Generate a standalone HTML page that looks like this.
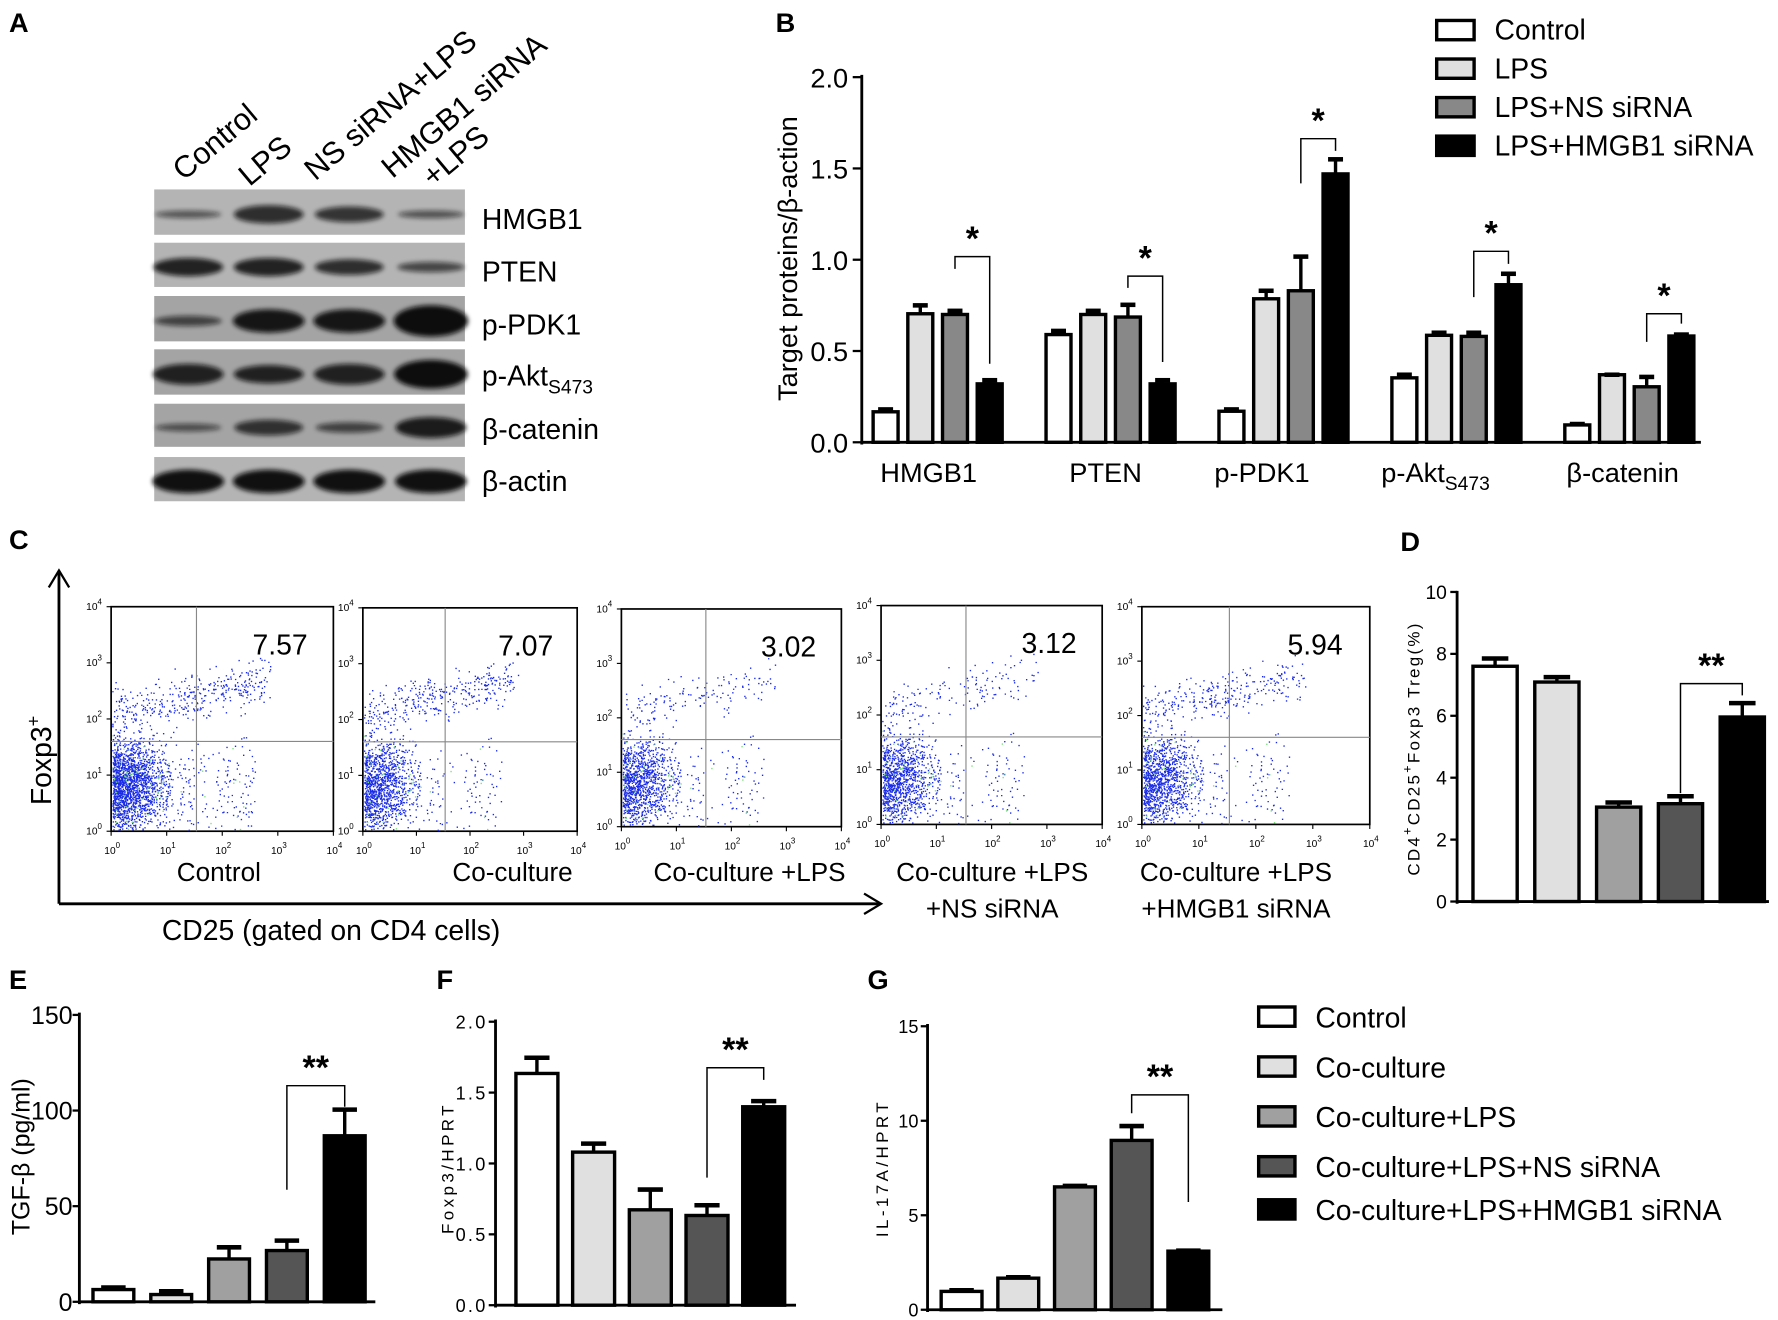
<!DOCTYPE html>
<html><head><meta charset="utf-8"><style>
html,body{margin:0;padding:0;background:#fff}
svg{display:block}
text{font-family:"Liberation Sans",sans-serif;fill:#000}
</style></head><body>
<svg id="fig" width="1778" height="1320" viewBox="0 0 1568 1164" xmlns="http://www.w3.org/2000/svg">
<defs><filter id="blur" x="-20%" y="-50%" width="140%" height="200%"><feGaussianBlur stdDeviation="2.2"/></filter></defs>
<g id="root"></g>
</svg>
<script>
// ---------- data ----------
const bGroups=['HMGB1','PTEN','p-PDK1','p-Akt','β-catenin'];
const bControl=[0.167,0.59,0.17,0.353,0.095];
const bLPS=[0.704,0.70,0.786,0.586,0.37];
const bNS=[0.70,0.686,0.83,0.58,0.304];
const bSi=[0.32,0.32,1.47,0.863,0.582];
const bControlErr=[0.18,0.61,0.18,0.37,0.10];
const bLPSErr=[0.75,0.72,0.83,0.60,0.37];
const bNSErr=[0.72,0.753,1.017,0.60,0.358];
const bSiErr=[0.34,0.34,1.55,0.923,0.59];
const bTicks=[0,0.5,1.0,1.5,2.0];
const bTickLabels=['0.0','0.5','1.0','1.5','2.0'];
const bSeriesNames=['Control','LPS','LPS+NS siRNA','LPS+HMGB1 siRNA'];

const dValues=[7.6,7.09,3.05,3.16,5.96];
const dErr=[7.85,7.25,3.2,3.4,6.41];
const dTicks=[0,2,4,6,8,10];

const eValues=[6.4,3.8,22.4,26.8,86.8];
const eErr=[7.5,5.5,28.5,32,100.5];
const eTicks=[0,50,100,150];

const fValues=[1.635,1.08,0.673,0.633,1.40];
const fErr=[1.746,1.14,0.816,0.705,1.44];
const fTicks=[0,0.5,1.0,1.5,2.0];
const fTickLabels=['0.0','0.5','1.0','1.5','2.0'];

const gValues=[0.97,1.67,6.5,8.96,3.1];
const gErr=[1.03,1.72,6.55,9.72,3.13];
const gTicks=[0,5,10,15];

const cgNames=['Control','Co-culture','Co-culture+LPS','Co-culture+LPS+NS siRNA','Co-culture+LPS+HMGB1 siRNA'];
const flowPct=['7.57','7.07','3.02','3.12','5.94'];

// ---------- helpers ----------
const NS='http://www.w3.org/2000/svg';
const root=document.getElementById('root');
function el(tag,attrs,parent,txt){const e=document.createElementNS(NS,tag);for(const k in attrs)e.setAttribute(k,attrs[k]);if(txt!==undefined)e.textContent=txt;(parent||root).appendChild(e);return e;}
function grp(name,parent){const g=el('g',{},parent);


return g;}
function label(parent,name,x,y,txt,size,extra){const t=el('text',Object.assign({x:x,y:y,'font-size':size},extra||{}),parent,txt);


return t;}
function line(p,x1,y1,x2,y2,w,c){return el('line',{x1,y1,x2,y2,stroke:c||'#000','stroke-width':w||2},p);}
function bar(p,name,x,w,y0,y1,fill,errY){const r=el('rect',{x:x,y:y1,width:w,height:y0-y1,fill:fill,stroke:'#000','stroke-width':3},p);


line(p,x+w/2,y1,x+w/2,errY,3);line(p,x+w/2-w*0.3,errY,x+w/2+w*0.3,errY,4);return r;}
function bracket(p,x1,x2,yTop,yL,yR,stars,size){el('path',{d:`M${x1},${yL}V${yTop}H${x2}V${yR}`,fill:'none',stroke:'#000','stroke-width':1.3},p);
label(p,'significance-stars',(x1+x2)/2,yTop-6,stars,size||30,{'text-anchor':'middle','font-weight':'bold'});}
function panelLetter(name,x,y,t){label(root,name,x,y,t,24,{'font-weight':'bold'});}

// ---------- Panel A ----------
panelLetter('panel-a-letter',8,28,'A');
const gA=grp('panel-a-western-blot');
const laneX=[166,237,308,380];
[['Control',162,160],['LPS',220,165],['NS siRNA+LPS',278,160],['HMGB1 siRNA',346,158],['+LPS',382,166]].forEach(l=>{
label(gA,'lane-label',l[1],l[2],l[0],27,{transform:`rotate(-40 ${l[1]} ${l[2]})`});});
const rows=[['HMGB1',167,207,[[3,1.5],[7,5],[6,4.5],[3,2]]],['PTEN',214,253,[[7,6],[7,6],[6,5],[4,3]]],
['p-PDK1',261,301,[[4,3],[9,7],[9,7],[12,10]]],['p-Akt',308,348,[[8,6],[7,6],[8,6],[11,9]]],
['β-catenin',356,394,[[3,2],[6,4.5],[4,3],[8,6.5]]],['β-actin',403,442,[[9,7.5],[9,7.5],[9,7.5],[9,7.5]]]];
rows.forEach(r=>{const rg=grp('blot-row-'+r[0],gA);
el('rect',{x:136,y:r[1],width:274,height:r[2]-r[1],fill:r[0]==='p-PDK1'||r[0]==='p-Akt'||r[0]==='β-catenin'?'#a4a4a4':'#b4b4b4'},rg);
const cy=(r[1]+r[2])/2;
r[3].forEach((b,i)=>{el('ellipse',{cx:laneX[i],cy:cy+2,rx:28+b[0]*0.4,ry:b[0]*1.15,fill:'#0a0a0a',opacity:Math.min(1,0.45+b[1]*0.07),filter:'url(#blur)'},rg);});
});
label(gA,'blot-label-hmgb1',425,202,'HMGB1',25);
label(gA,'blot-label-pten',425,248,'PTEN',25);
label(gA,'blot-label-ppdk1',425,295,'p-PDK1',25);
const ak=label(gA,'blot-label-pakt',425,340,'p-Akt',25);el('tspan',{'font-size':17,dy:7},ak,'S473');
label(gA,'blot-label-bcatenin',425,387,'β-catenin',25);
label(gA,'blot-label-bactin',425,433,'β-actin',25);

// ---------- Panel B ----------
panelLetter('panel-b-letter',684,28,'B');
const gB=grp('panel-b-chart');
const yB=v=>390-v*161;
const xB=(g,i)=>770+g*152.5+i*30.6;
line(gB,760,66,760,392,2.5);line(gB,759,390,1500,390,2.5);
bTicks.forEach((t,i)=>{line(gB,752,yB(t),760,yB(t),2);label(gB,'y-tick-label',748,yB(t)+9,bTickLabels[i],24,{'text-anchor':'end'});});
label(gB,'y-axis-title',703,228,'Target proteins/β-action',24,{'text-anchor':'middle',transform:'rotate(-90 703 228)'});
const bFills=['#fff','#e0e0e0','#888','#000'];
const bSeries=[bControl,bLPS,bNS,bSi], bErrs=[bControlErr,bLPSErr,bNSErr,bSiErr];
const bBr=[[1.017,0.95,0.43],[0.91,0.846,0.44],[1.663,1.418,1.596],[1.046,0.795,0.977],[0.704,0.55,0.65]];
bGroups.forEach((gn,g)=>{bSeries.forEach((s,i)=>bar(gB,'bar-'+gn+'-'+bSeriesNames[i],xB(g,i),22,yB(0),yB(s[g]),bFills[i],yB(bErrs[i][g])));
bracket(gB,xB(g,2)+11,xB(g,3)+11,yB(bBr[g][0]),yB(bBr[g][1]),yB(bBr[g][2]),'*',30);});
const bLab=[819,975,1113,1266,1431];
bGroups.forEach((gn,g)=>{const t=label(gB,'x-tick-label',bLab[g],425,gn==='p-Akt'?'p-Akt':gn,24,{'text-anchor':'middle'});if(gn==='p-Akt'){el('tspan',{'font-size':17,dy:7},t,'S473');}});
const gBL=grp('panel-b-legend');
bSeriesNames.forEach((n,i)=>{const y=18+i*34;el('rect',{x:1267,y:y,width:33,height:17,fill:bFills[i],stroke:'#000','stroke-width':3},gBL);
label(gBL,'legend-entry',1318,y+17,n,25);});

// ---------- Panel C ----------
panelLetter('panel-c-letter',8,484,'C');
const gC=grp('panel-c-flow');
line(gC,52,505,52,797,2.5);el('path',{d:'M43,518 L52,503 L61,518',fill:'none',stroke:'#000','stroke-width':2},gC);
line(gC,52,797,776,797,2.5);el('path',{d:'M762,788 L777,797 L762,806',fill:'none',stroke:'#000','stroke-width':2},gC);
const fx=label(gC,'y-axis-title',45,710,'Foxp3',25,{transform:'rotate(-90 45 710)'});el('tspan',{'font-size':16,dy:-10},fx,'+');
label(gC,'x-axis-title',292,829,'CD25 (gated on CD4 cells)',25,{'text-anchor':'middle'});
const plots=[[98,535,294,733],[320,536,509,733],[548,537,742,729],[777,534,972,727],[1007,535,1208,727]];
let seed=12345;const rnd=()=>{seed=(seed*1103515245+12345)%2147483648;return seed/2147483648;};
const gauss=()=>(rnd()+rnd()+rnd()-1.5)/1.5;
const plabels=[['Control'],['Co-culture'],['Co-culture +LPS'],['Co-culture +LPS','+NS siRNA'],['Co-culture +LPS','+HMGB1 siRNA']];
const plabX=[193,452,661,875,1090];
plots.forEach((p,k)=>{const pg=grp('flow-plot-'+cgNames[k],gC);const [x0,y0,x1,y1]=p,w=x1-x0,h=y1-y0;
el('rect',{x:x0,y:y0,width:w,height:h,fill:'#fff',stroke:'#000','stroke-width':1.5},pg);
let dots='';let gdots='';
const nUp=Math.round(parseFloat(flowPct[k])*50);
for(let i=0;i<2300;i++){let fxv=Math.abs(gauss()*0.32+0.08*rnd());if(rnd()<0.08)fxv=0.3+rnd()*0.35;
let fyv=0.8+gauss()*0.3;if(fyv>0.995)fyv=0.995-rnd()*0.3;if(fyv<0.52)fyv=0.52+rnd()*0.15;
const xx=x0+1+Math.min(0.75,fxv)*w, yy=y0+fyv*h;const s=`M${xx.toFixed(1)},${yy.toFixed(1)}h1.2v1.2h-1.2z`;if(rnd()<0.05)gdots+=s;else dots+=s;}
for(let i=0;i<nUp;i++){const t=rnd();const xx=x0+1+t*0.7*w+gauss()*6;const yy=y0+h*(0.48-t*0.16)+gauss()*h*0.15;dots+=`M${Math.max(x0+1,xx).toFixed(1)},${Math.max(y0+h*0.22,Math.min(y0+h*0.62,yy)).toFixed(1)}h1.2v1.2h-1.2z`;}
el('path',{d:dots,fill:'#1a2be8'},pg);el('path',{d:gdots,fill:'#7ee07e'},pg);
line(pg,x0+w*0.384,y0,x0+w*0.384,y1,1,'#888');line(pg,x0,y0+h*0.6,x1,y0+h*0.6,1,'#888');
label(pg,'quadrant-percentage',x0+w*0.76,y0+42,flowPct[k],25,{'text-anchor':'middle'});
for(let e=0;e<=4;e++){const yy=y1-e*h/4;line(pg,x0-4,yy,x0,yy,1);const t=label(pg,'y-tick-label',x0-22,yy+3,'10',9);el('tspan',{'font-size':7,dy:-5},t,String(e));
const xx=x0+e*w/4;line(pg,xx,y1,xx,y1+4,1);const t2=label(pg,'x-tick-label',xx-6,y1+20,'10',9);el('tspan',{'font-size':7,dy:-5},t2,String(e));}
plabels[k].forEach((s,j)=>label(pg,'flow-plot-label',plabX[k],777+j*32,s,23,{'text-anchor':'middle'}));
});

// ---------- Panel D ----------
panelLetter('panel-d-letter',1235,486,'D');
const gD=grp('panel-d-chart');
const yD=v=>795-v*27.3;const xD=i=>1299+i*54.5;
const fills5=['#fff','#e0e0e0','#a0a0a0','#555','#000'];
line(gD,1285,521,1285,797,2.5);line(gD,1284,795,1560,795,2.5);
dTicks.forEach(t=>{line(gD,1279,yD(t),1285,yD(t),2);label(gD,'y-tick-label',1276,yD(t)+6,String(t),17,{'text-anchor':'end'});});
const dt=label(gD,'y-axis-title',1252,660,'CD4',15,{'text-anchor':'middle','letter-spacing':2,transform:'rotate(-90 1252 660)'});
el('tspan',{'font-size':11,dy:-7},dt,'+');el('tspan',{dy:7},dt,'CD25');el('tspan',{'font-size':11,dy:-7},dt,'+');el('tspan',{dy:7},dt,'Foxp3 Treg(%)');
dValues.forEach((v,i)=>bar(gD,'bar-'+cgNames[i],xD(i),39,yD(0),yD(v),fills5[i],yD(dErr[i])));
bracket(gD,xD(3)+19.5,xD(4)+19.5,yD(7.04),yD(3.5),yD(6.66),'**',30);

// ---------- Panel E ----------
panelLetter('panel-e-letter',8,872,'E');
const gE=grp('panel-e-chart');
const yE=v=>1148-v*(253/150);const xE=i=>82+i*51;
line(gE,70,893,70,1150,2.5);line(gE,69,1148,331,1148,2.5);
eTicks.forEach(t=>{line(gE,64,yE(t),70,yE(t),2);label(gE,'y-tick-label',64,yE(t)+8,String(t),22,{'text-anchor':'end'});});
label(gE,'y-axis-title',26,1020,'TGF-β (pg/ml)',22,{'text-anchor':'middle',transform:'rotate(-90 26 1020)'});
eValues.forEach((v,i)=>bar(gE,'bar-'+cgNames[i],xE(i),36,yE(0),yE(v),fills5[i],yE(eErr[i])));
bracket(gE,xE(3)+18,xE(4)+18,yE(113),yE(58.6),yE(102),'**',30);

// ---------- Panel F ----------
panelLetter('panel-f-letter',385,872,'F');
const gF=grp('panel-f-chart');
const yF=v=>1151-v*125;const xF=i=>455+i*50;
line(gF,437,899,437,1153,2.5);line(gF,436,1151,702,1151,2.5);
fTicks.forEach((t,i)=>{line(gF,431,yF(t),437,yF(t),2);label(gF,'y-tick-label',430,yF(t)+6,fTickLabels[i],16,{'text-anchor':'end','letter-spacing':2});});
label(gF,'y-axis-title',400,1030,'Foxp3/HPRT',15,{'text-anchor':'middle','letter-spacing':3,transform:'rotate(-90 400 1030)'});
fValues.forEach((v,i)=>bar(gF,'bar-'+cgNames[i],xF(i),37,yF(0),yF(v),fills5[i],yF(fErr[i])));
bracket(gF,xF(3)+18.5,xF(4)+18.5,yF(1.675),yF(0.90),yF(1.59),'**',30);

// ---------- Panel G ----------
panelLetter('panel-g-letter',765,872,'G');
const gG=grp('panel-g-chart');
const yG=v=>1155-v*(250/15);const xG=i=>830+i*50;
line(gG,818,903,818,1157,2.5);line(gG,817,1155,1078,1155,2.5);
gTicks.forEach(t=>{line(gG,812,yG(t),818,yG(t),2);label(gG,'y-tick-label',810,yG(t)+6,String(t),16,{'text-anchor':'end'});});
label(gG,'y-axis-title',783,1030,'IL-17A/HPRT',15,{'text-anchor':'middle','letter-spacing':3,transform:'rotate(-90 783 1030)'});
gValues.forEach((v,i)=>bar(gG,'bar-'+cgNames[i],xG(i),36,yG(0),yG(v),fills5[i],yG(gErr[i])));
bracket(gG,xG(3)+18,xG(4)+18,yG(11.37),yG(10.4),yG(5.7),'**',30);

// ---------- bottom legend ----------
const gL=grp('bottom-legend');
const legNames=['Control','Co-culture','Co-culture+LPS','Co-culture+LPS+NS siRNA','Co-culture+LPS+HMGB1 siRNA'];
const legY=[897,941,985,1029,1067];
legNames.forEach((n,i)=>{el('rect',{x:1110,y:legY[i]-9,width:32,height:17,fill:fills5[i],stroke:'#000','stroke-width':3},gL);
label(gL,'legend-entry',1160,legY[i]+9,n,25);});
</script>
</body></html>
